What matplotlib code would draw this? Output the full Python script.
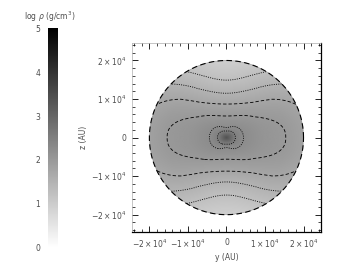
import numpy as np
import matplotlib
matplotlib.use("Agg")
import matplotlib.pyplot as plt
from matplotlib.ticker import MultipleLocator

# ---- data (log density profiles, radii in units of 1e4 AU)
pole_r = [0.0, 0.17, 0.26, 0.56, 0.87, 1.15, 1.49, 2.0]
pole_val = [3.4, 2.5, 2.25, 2.0, 1.75, 1.5, 1.25, 0.95]
eq_r = [0.0, 0.23, 0.44, 0.9, 1.54, 2.0]
eq_val = [3.4, 2.5, 2.25, 2.1, 2.0, 1.85]
contour_levels = [1.25, 1.5, 1.75, 2.0, 2.25, 2.5]
cbar_ticks = [0, 1, 2, 3, 4, 5]
cbar_ticklabels = ["0", "1", "2", "3", "4", "5"]
xy_ticks = [-2e4, -1e4, 0, 1e4, 2e4]
xy_ticklabels = [r"$-2\times10^4$", r"$-1\times10^4$", "0", r"$1\times10^4$", r"$2\times10^4$"]
radius = 2.0e4
lim = 2.45e4
blend_power = 2.6

# ---- field
n = 500
g = np.linspace(-lim, lim, n)
X, Z = np.meshgrid(g, g)
R = np.hypot(X, Z) / 1e4
S = np.abs(Z) / 1e4 / np.maximum(R, 1e-9)
w = S ** blend_power
F = np.interp(R, eq_r, eq_val) * (1 - w) + np.interp(R, pole_r, pole_val) * w
Fm = np.ma.masked_where(R > radius / 1e4, F)

fig = plt.figure(figsize=(3.53, 2.73), dpi=100)
ax = fig.add_axes([0.374, 0.150, 0.535, 0.692])
im = ax.imshow(Fm, extent=[-lim, lim, -lim, lim], origin="lower",
               cmap="gray_r", vmin=0, vmax=5, interpolation="bilinear")
styles = [(0, (1.2, 1.5)), (0, (1.2, 1.5)), (0, (4, 2.5)), (0, (4, 2.5)),
          (0, (1.2, 1.5)), (0, (1.2, 1.5))]
ax.contour(X, Z, Fm, levels=contour_levels, colors="k", linestyles=styles,
           linewidths=0.6)
t = np.linspace(0, 2 * np.pi, 400)
ax.plot(radius * np.cos(t), radius * np.sin(t), color="k", lw=0.8,
        ls=(0, (5, 3)))
ax.set_xlim(-lim, lim)
ax.set_ylim(-lim, lim)
ax.set_aspect("auto")

tc = "0.3"
ax.set_xticks(xy_ticks)
ax.set_xticklabels(xy_ticklabels)
ax.set_yticks(xy_ticks)
ax.set_yticklabels(xy_ticklabels)
ax.xaxis.set_minor_locator(MultipleLocator(2000))
ax.yaxis.set_minor_locator(MultipleLocator(2000))
ax.tick_params(which="both", direction="in", top=True, right=True,
               labelsize=5.5, labelcolor=tc, pad=4)
ax.tick_params(which="major", length=4, width=0.6)
ax.tick_params(which="minor", length=2, width=0.5)
for s in ["left", "top"]:
    ax.spines[s].set_linewidth(0.4)
    ax.spines[s].set_color("0.6")
for s in ["right", "bottom"]:
    ax.spines[s].set_linewidth(0.9)
ax.set_xlabel("y (AU)", fontsize=5.5, color=tc, labelpad=2)
ax.set_ylabel("z (AU)", fontsize=5.5, color=tc, labelpad=2)

cax = fig.add_axes([0.137, 0.092, 0.026, 0.805])
cb = fig.colorbar(im, cax=cax)
cb.set_ticks(cbar_ticks)
cb.set_ticklabels(cbar_ticklabels)
cax.yaxis.set_ticks_position("left")
cax.tick_params(length=0, labelsize=5.5, labelcolor=tc, pad=6)
cb.outline.set_visible(False)
fig.text(0.142, 0.94, r"log $\rho$ (g/cm$^3$)", fontsize=5.5, color=tc,
         ha="center", va="center")

fig.savefig("out.png", dpi=100)
